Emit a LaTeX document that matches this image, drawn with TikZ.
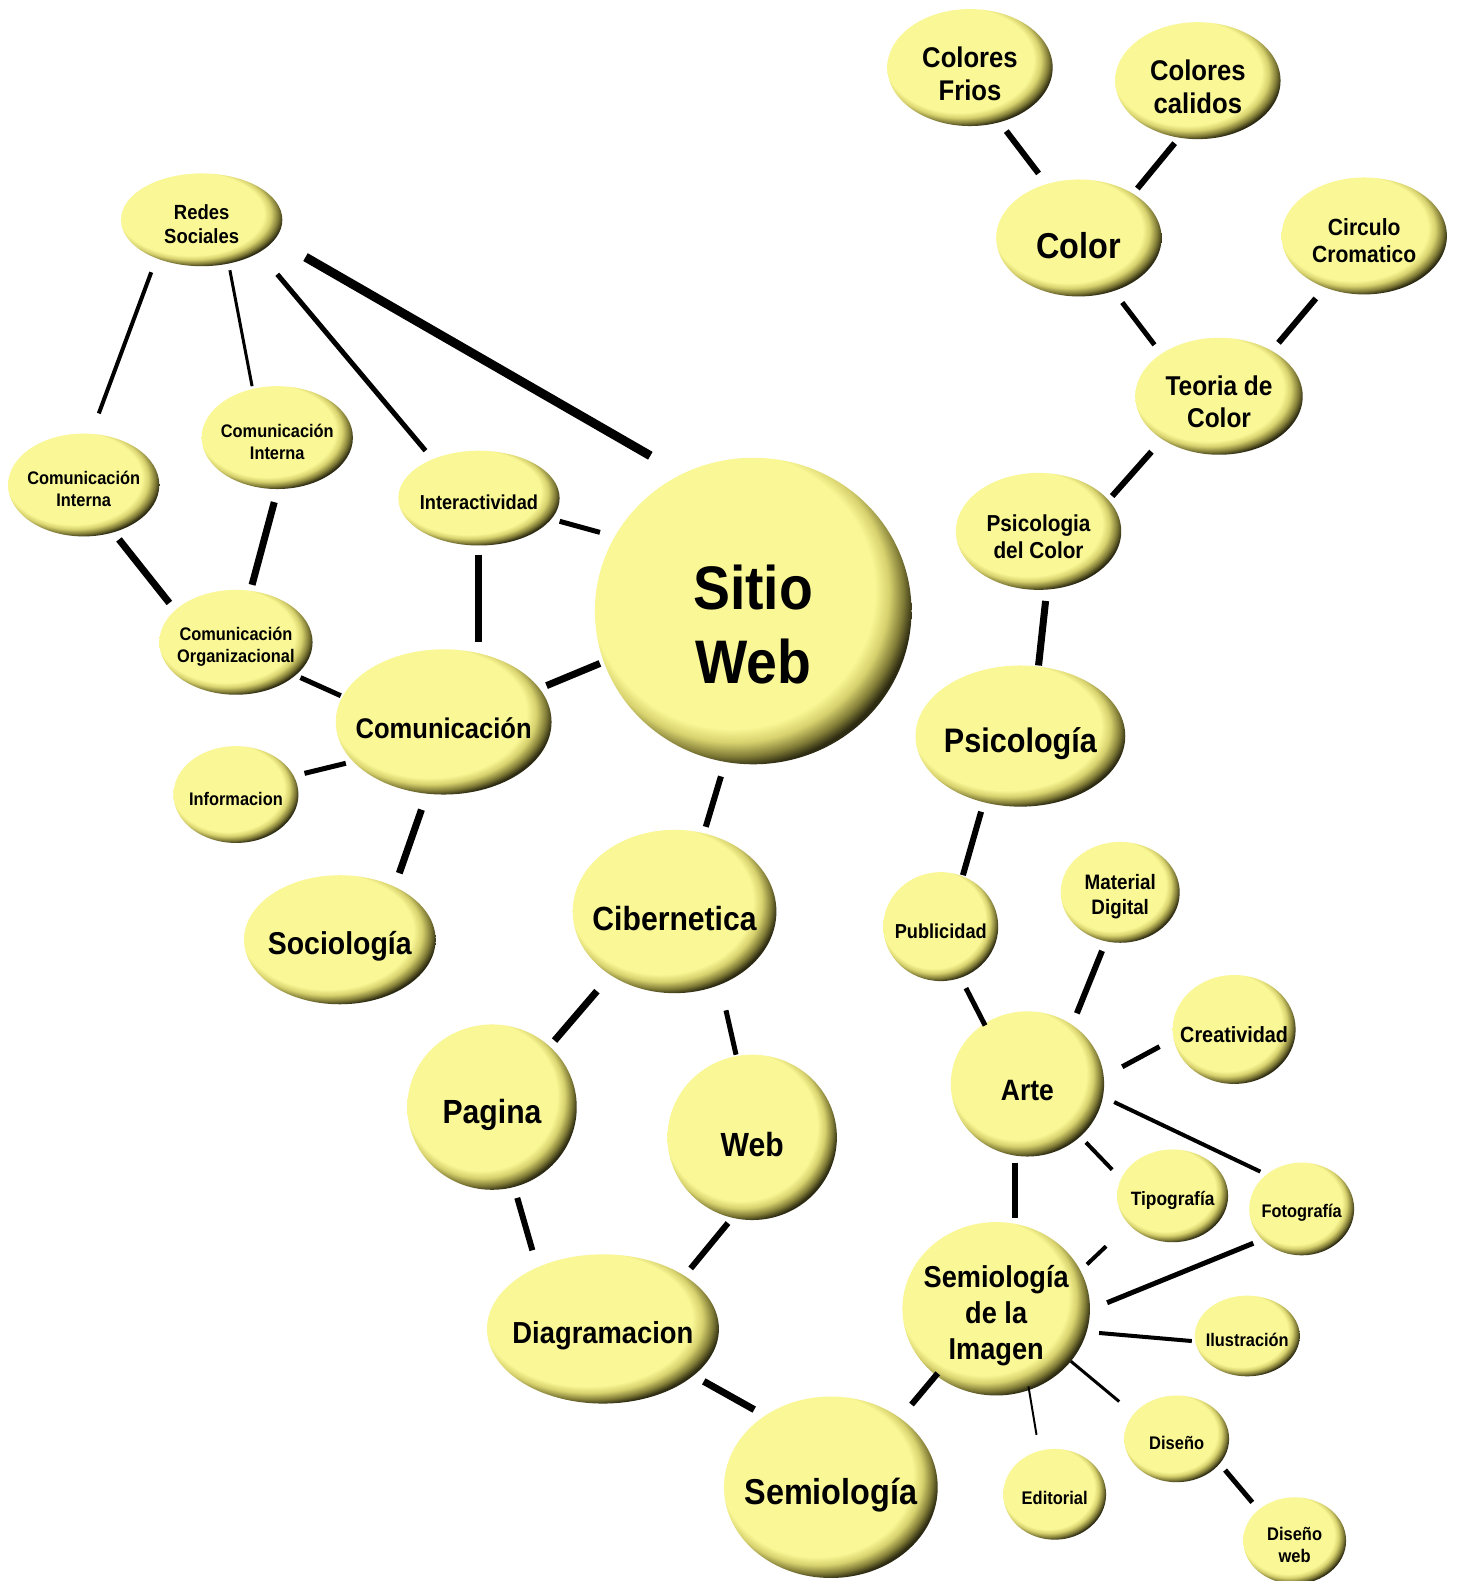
\documentclass[tikz,border=0pt]{standalone}
\usepackage{fontspec}
\setmainfont{Liberation Sans}[FakeStretch=0.9]
\usetikzlibrary{shapes.geometric}
\definecolor{bY}{RGB}{250,247,150}
\definecolor{bL}{RGB}{215,210,110}
\definecolor{bM}{RGB}{130,125,55}
\definecolor{bD}{RGB}{45,43,18}
\pgfdeclareradialshading{bubble}{\pgfpoint{-6bp}{6bp}}{color(0bp)=(bY); color(22.5bp)=(bY); color(24.5bp)=(bL); color(26.5bp)=(bM); color(28bp)=(bD); color(50bp)=(bD)}
\tikzset{
  bubble/.style={ellipse, shade, shading=bubble, inner sep=0pt, outer sep=0pt},
  txt/.style={align=center, inner sep=0pt, text=black},
}
% name, x, y, rx, ry, size, skip, text
\newcommand\bub[8]{%
  \node[bubble, minimum width=2.0166*#4pt, minimum height=2.0166*#5pt] (#1) at (#2,#3) {};
  \node[txt, font={\fontsize{#6}{#7}\selectfont\bfseries}, yshift=-0.22*#6pt] (#1-t) at (#1) {#8};
}
% width, a, shift a, b, shift b
\newcommand\lnk[5]{%
  \draw[line width=#1pt] ([shift={(#3)}]#2.center) -- ([shift={(#5)}]#4.center);
}
\begin{document}
\begin{tikzpicture}[x=1.0083pt, y=-1.0083pt]
\fill[white] (0,0) rectangle (1446,1568);
\useasboundingbox (0,0) rectangle (1446,1568);

% nodes
\bub{redes}{200}{218}{80}{46}{20.5}{24}{Redes\\Sociales}
\bub{cil}{83}{481}{75}{51}{18.2}{22}{Comunicación\\Interna}
\bub{cim}{275}{434}{75}{51}{18.2}{22}{Comunicación\\Interna}
\bub{inter}{475}{494}{80}{47}{20.2}{24}{Interactividad}
\bub{org}{234}{637}{76}{52}{18.2}{22}{Comunicación\\Organizacional}
\bub{com}{440}{716}{107}{72}{28.4}{33}{Comunicación}
\bub{info}{234}{788}{62}{48}{18.2}{22}{Informacion}
\bub{soc}{337}{932}{95}{64}{31.6}{36}{Sociología}
\bub{sitio}{747}{606}{157}{152}{61.5}{74}{Sitio\\Web}
\bub{ciber}{669}{904}{101}{81}{33.5}{38}{Cibernetica}
\bub{pag}{488}{1098}{84}{82}{33.5}{38}{Pagina}
\bub{web}{746}{1128}{84}{82}{33.5}{38}{Web}
\bub{diag}{598}{1318}{115}{74}{30.4}{36}{Diagramacion}
\bub{semi}{824}{1475}{106}{90}{36}{42}{Semiología}
\bub{frios}{962}{67}{82}{58}{28.5}{33}{Colores\\Frios}
\bub{calidos}{1188}{80}{82}{58}{28.5}{33}{Colores\\calidos}
\bub{color}{1070}{236}{82}{58}{36}{42}{Color}
\bub{circ}{1353}{234}{82}{58}{23.4}{27}{Circulo\\Cromatico}
\bub{teoria}{1209}{393}{83}{58}{27.2}{32}{Teoria de\\Color}
\bub{psic}{1030}{527}{82}{58}{23.1}{27}{Psicologia\\del Color}
\bub{psi}{1012}{730}{104}{70}{34}{40}{Psicología}
\bub{pub}{933}{919}{57}{54}{20.2}{24}{Publicidad}
\bub{md}{1111}{885}{59}{50}{20.9}{25}{Material\\Digital}
\bub{crea}{1224}{1021}{61}{54}{22}{26}{Creatividad}
\bub{arte}{1019}{1075}{76}{72}{29.4}{34}{Arte}
\bub{tipo}{1163}{1186}{55}{46}{19.3}{23}{Tipografía}
\bub{foto}{1291}{1199}{52}{46}{18.2}{22}{Fotografía}
\bub{si}{988}{1298}{93}{86}{30.2}{36}{Semiología\\de la\\Imagen}
\bub{ilus}{1237}{1325}{52}{40}{18.2}{22}{Ilustración}
\bub{dis}{1167}{1427}{52}{43}{18.3}{22}{Diseño}
\bub{edit}{1046}{1482}{51}{45}{18.3}{22}{Editorial}
\bub{dweb}{1284}{1528}{51}{43}{18.3}{22}{Diseño\\web}

% connectors
\lnk{4}{redes}{-50,52}{cil}{15,-71}
\lnk{3}{redes}{28,50}{cim}{-25,-51}
\lnk{5}{redes}{75,54}{inter}{-53,-47}
\lnk{9}{redes}{103,37}{sitio}{-102,-154}
\lnk{7}{cil}{35,54}{org}{-66,-39}
\lnk{7}{cim}{-3,64}{org}{16,-57}
\lnk{5}{inter}{80,23}{sitio}{-152,-78}
\lnk{7}{inter}{0,56}{com}{35,-79}
\lnk{5}{org}{64,35}{com}{-102,-26}
\lnk{7}{com}{102,-36}{sitio}{-152,52}
\lnk{5}{info}{68,-21}{com}{-97,41}
\lnk{7}{com}{-22,87}{soc}{59,-66}
\lnk{6}{sitio}{-32,164}{ciber}{31,-84}
\lnk{7}{ciber}{-77,79}{pag}{62,-66}
\lnk{5}{ciber}{51,98}{web}{-16,-82}
\lnk{6}{pag}{25,90}{diag}{-70,-78}
\lnk{6}{web}{-24,85}{diag}{87,-60}
\lnk{7}{diag}{100,52}{semi}{-76,-77}
\lnk{6}{semi}{80,-82}{si}{-58,64}
\lnk{6}{frios}{36,63}{color}{-40,-64}
\lnk{6}{calidos}{-23,62}{color}{58,-49}
\lnk{5}{color}{43,64}{teoria}{-64,-51}
\lnk{6}{circ}{-48,62}{teoria}{59,-53}
\lnk{6}{teoria}{-67,55}{psic}{73,-35}
\lnk{7}{psic}{7,69}{psi}{18,-70}
\lnk{6}{psi}{-39,75}{pub}{22,-51}
\lnk{5}{pub}{25,61}{arte}{-42,-58}
\lnk{6}{md}{-18,58}{arte}{49,-70}
\lnk{5}{crea}{-74,17}{arte}{94,-17}
\lnk{4}{arte}{86,18}{foto}{-41,-37}
\lnk{4}{arte}{58,58}{tipo}{-60,-26}
\lnk{6}{arte}{-12,78}{si}{19,-90}
\lnk{4}{tipo}{-66,50}{si}{90,-44}
\lnk{5}{foto}{-48,34}{si}{110,-6}
\lnk{4}{ilus}{-55,5}{si}{102,24}
\lnk{3}{dis}{-57,-37}{si}{74,52}
\lnk{2}{edit}{-18,-59}{si}{32,77}
\lnk{5}{dis}{48,31}{dweb}{-42,-38}
\end{tikzpicture}
\end{document}
